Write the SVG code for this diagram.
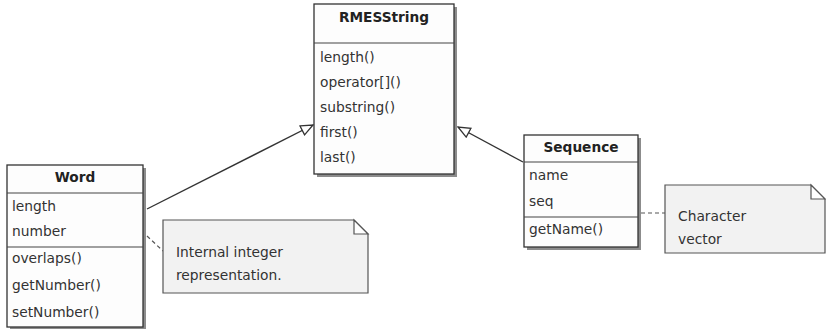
<svg xmlns="http://www.w3.org/2000/svg" width="826" height="329" viewBox="0 0 826 329">
  <defs>
    <marker id="gen" markerUnits="userSpaceOnUse" markerWidth="16" markerHeight="14" refX="13" refY="6" orient="auto">
      <path d="M1,1 L13,6 L1,11 Z" fill="#ffffff" stroke="#333333" stroke-width="1.3" stroke-linejoin="miter"/>
    </marker>
  </defs>
  <style>
    .shadow { fill: #8c8c8c; }
    .box { fill: #fdfdfd; stroke: #333333; stroke-width: 1.3; }
    .sep { stroke: #444444; stroke-width: 1.2; }
    .note { fill: #f2f2f2; stroke: #555555; stroke-width: 1.2; }
    .fold { fill: #ffffff; stroke: #555555; stroke-width: 1.2; }
    .title { font-family: "DejaVu Sans", sans-serif; font-size: 13.7px; font-weight: bold; fill: #222222; text-anchor: middle; }
    .txt { font-family: "DejaVu Sans", sans-serif; font-size: 13.8px; fill: #333333; }
    .edge { stroke: #333333; stroke-width: 1.4; fill: none; }
    .dash { stroke: #555555; stroke-width: 1.2; stroke-dasharray: 4 3; fill: none; }
  </style>

  <!-- connectors -->
  <g id="connectors">
    <line class="edge" x1="147" y1="209" x2="313" y2="125" marker-end="url(#gen)"/>
    <line class="edge" x1="523" y1="162" x2="458" y2="127" marker-end="url(#gen)"/>
    <line class="dash" x1="147" y1="236" x2="163" y2="251"/>
    <line class="dash" x1="641" y1="213" x2="665" y2="213"/>
  </g>

  <!-- RMESString class -->
  <g id="RMESString">
    <rect class="shadow" x="317" y="7" width="140" height="170"/>
    <rect class="box" x="314" y="4" width="140" height="170"/>
    <line class="sep" x1="314" y1="43" x2="454" y2="43"/>
    <text class="title" x="384" y="22">RMESString</text>
    <text class="txt" x="320" y="62">length()</text>
    <text class="txt" x="320" y="87">operator[]()</text>
    <text class="txt" x="320" y="112">substring()</text>
    <text class="txt" x="320" y="137">first()</text>
    <text class="txt" x="320" y="162">last()</text>
  </g>

  <!-- Word class -->
  <g id="Word">
    <rect class="shadow" x="10" y="168" width="136" height="162"/>
    <rect class="box" x="7" y="165" width="136" height="162"/>
    <line class="sep" x1="7" y1="193" x2="143" y2="193"/>
    <line class="sep" x1="7" y1="247" x2="143" y2="247"/>
    <text class="title" x="75" y="182">Word</text>
    <text class="txt" x="12" y="211">length</text>
    <text class="txt" x="12" y="236">number</text>
    <text class="txt" x="12" y="263">overlaps()</text>
    <text class="txt" x="12" y="290">getNumber()</text>
    <text class="txt" x="12" y="317">setNumber()</text>
  </g>

  <!-- Sequence class -->
  <g id="Sequence">
    <rect class="shadow" x="527" y="138" width="114" height="112"/>
    <rect class="box" x="524" y="135" width="114" height="112"/>
    <line class="sep" x1="524" y1="162" x2="638" y2="162"/>
    <line class="sep" x1="524" y1="217" x2="638" y2="217"/>
    <text class="title" x="581" y="152">Sequence</text>
    <text class="txt" x="529" y="180">name</text>
    <text class="txt" x="529" y="206">seq</text>
    <text class="txt" x="529" y="234">getName()</text>
  </g>

  <!-- note on Word -->
  <g id="note-word">
    <path class="note" d="M163,220 L354,220 L368,234 L368,293 L163,293 Z"/>
    <path class="fold" d="M354,220 L354,234 L368,234 Z"/>
    <text class="txt" x="176" y="257">Internal integer</text>
    <text class="txt" x="176" y="280">representation.</text>
  </g>

  <!-- note on Sequence -->
  <g id="note-sequence">
    <path class="note" d="M665,185 L811,185 L825,199 L825,253 L665,253 Z"/>
    <path class="fold" d="M811,185 L811,199 L825,199 Z"/>
    <text class="txt" x="678" y="221">Character</text>
    <text class="txt" x="678" y="244">vector</text>
  </g>
</svg>
